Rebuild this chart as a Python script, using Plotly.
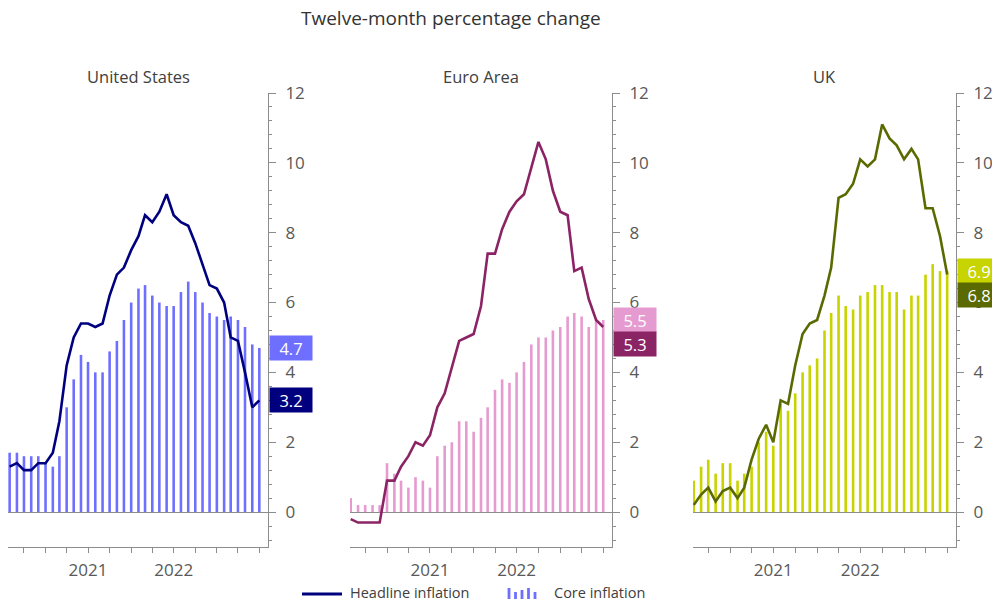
import pandas as pd
import plotly.graph_objects as go
from plotly.subplots import make_subplots

# monthly, Aug 2020 - Jul 2023
months = pd.date_range("2020-08-01", periods=36, freq="MS")

us_headline = [1.3, 1.4, 1.2, 1.2, 1.4,
               1.4, 1.7, 2.6, 4.2, 5.0, 5.4, 5.4, 5.3, 5.4, 6.2, 6.8, 7.0,
               7.5, 7.9, 8.5, 8.3, 8.6, 9.1, 8.5, 8.3, 8.2, 7.7, 7.1, 6.5,
               6.4, 6.0, 5.0, 4.9, 4.0, 3.0, 3.2]
us_core = [1.7, 1.7, 1.6, 1.6, 1.6,
           1.4, 1.3, 1.6, 3.0, 3.8, 4.5, 4.3, 4.0, 4.0, 4.6, 4.9, 5.5,
           6.0, 6.4, 6.5, 6.2, 6.0, 5.9, 5.9, 6.3, 6.6, 6.3, 6.0, 5.7,
           5.6, 5.5, 5.6, 5.5, 5.3, 4.8, 4.7]

ea_headline = [-0.2, -0.3, -0.3, -0.3, -0.3,
               0.9, 0.9, 1.3, 1.6, 2.0, 1.9, 2.2, 3.0, 3.4, 4.1, 4.9, 5.0,
               5.1, 5.9, 7.4, 7.4, 8.1, 8.6, 8.9, 9.1, 9.9, 10.6, 10.1, 9.2,
               8.6, 8.5, 6.9, 7.0, 6.1, 5.5, 5.3]
ea_core = [0.4, 0.2, 0.2, 0.2, 0.2,
           1.4, 1.1, 0.9, 0.7, 1.0, 0.9, 0.7, 1.6, 1.9, 2.0, 2.6, 2.6,
           2.3, 2.7, 3.0, 3.5, 3.8, 3.7, 4.0, 4.3, 4.8, 5.0, 5.0, 5.2,
           5.3, 5.6, 5.7, 5.6, 5.3, 5.5, 5.5]

uk_headline = [0.2, 0.5, 0.7, 0.3, 0.6,
               0.7, 0.4, 0.7, 1.5, 2.1, 2.5, 2.0, 3.2, 3.1, 4.2, 5.1, 5.4,
               5.5, 6.2, 7.0, 9.0, 9.1, 9.4, 10.1, 9.9, 10.1, 11.1, 10.7, 10.5,
               10.1, 10.4, 10.1, 8.7, 8.7, 7.9, 6.8]
uk_core = [0.9, 1.3, 1.5, 1.1, 1.4,
           1.4, 0.9, 1.1, 1.3, 2.0, 2.3, 1.9, 3.1, 2.9, 3.4, 4.0, 4.2,
           4.4, 5.2, 5.7, 6.2, 5.9, 5.8, 6.2, 6.3, 6.5, 6.5, 6.3, 6.3,
           5.8, 6.2, 6.2, 6.8, 7.1, 6.9, 6.9]

panels = [
    ("United States", us_headline, us_core, "#00007f", "#6f6fff"),
    ("Euro Area", ea_headline, ea_core, "#8b2465", "#e69bd0"),
    ("UK", uk_headline, uk_core, "#5b6a00", "#c8d400"),
]

# page has an 8px body margin, so the figure is sized to fit the window
OFF = 8
W, H = 1000 - 2 * OFF, 610 - 2 * OFF


def px(xp):
    return min(max((xp - OFF) / W, 0), 1)


def py(yp):
    return min(max(1 - (yp - OFF) / H, 0), 1)


x_px = [(8, 268), (350, 612), (693, 956)]
y_dom = [py(547), py(93)]
y_range = [-1, 12]
px_per_unit = (547 - 93) / (y_range[1] - y_range[0])
box_h = 24

tick_dates = pd.date_range("2020-10-01", "2023-07-01", freq="3MS")
tick_text = [str(d.year) if d.month == 7 and d.year in (2021, 2022) else "" for d in tick_dates]

axis_grey = "#8c8c8c"
text_grey = "#595959"
font_family = "'Open Sans', 'Noto Sans', sans-serif"

fig = make_subplots(rows=1, cols=3)

annotations = []
for i, (name, head, core, line_col, bar_col) in enumerate(panels):
    col = i + 1
    fig.add_trace(go.Bar(x=months, y=core, marker_color=bar_col, marker_line_width=0,
                         width=11 * 86400000, showlegend=False), row=1, col=col)
    fig.add_trace(go.Scatter(x=months, y=head, mode="lines",
                             line=dict(color=line_col, width=2.6), showlegend=False), row=1, col=col)

    xa = "xaxis" if i == 0 else "xaxis%d" % col
    ya = "yaxis" if i == 0 else "yaxis%d" % col
    start = "2020-07-29" if i else "2020-07-25"
    fig.layout[xa].update(domain=[px(x_px[i][0]), px(x_px[i][1])],
                          range=[start, "2023-08-07"], type="date",
                          tickvals=tick_dates, ticktext=tick_text, automargin=False,
                          showline=True, linecolor=axis_grey, linewidth=1,
                          ticks="outside", ticklen=5, tickcolor=axis_grey,
                          showgrid=False, zeroline=False,
                          tickfont=dict(size=17, color=text_grey), ticklabelstandoff=3)
    fig.layout[ya].update(domain=y_dom, range=y_range, side="right", automargin=False,
                          tickvals=[0, 2, 4, 6, 8, 10, 12],
                          showline=True, linecolor=axis_grey, linewidth=1,
                          ticks="outside", ticklen=7, tickcolor=axis_grey,
                          minor=dict(dtick=0.4, tick0=0, ticks="outside", ticklen=3, tickcolor=axis_grey),
                          showgrid=False, zeroline=True, zerolinecolor=axis_grey, zerolinewidth=1,
                          tickfont=dict(size=17, color=text_grey), ticklabelstandoff=6)

    # panel title
    annotations.append(dict(text=name, x=px((x_px[i][0] + x_px[i][1]) / 2), y=py(77),
                            xref="paper", yref="paper", xanchor="center", yanchor="middle",
                            showarrow=False, font=dict(size=16.5, color="#404040")))

    # last-value boxes
    last = [(core[-1], bar_col), (head[-1], line_col)]
    last.sort(key=lambda t: -t[0])
    (v_hi, c_hi), (v_lo, c_lo) = last
    y_lo = v_lo
    if v_hi - v_lo < box_h / px_per_unit:
        y_lo = v_hi - box_h / px_per_unit
    for v, yy, c in [(v_hi, v_hi, c_hi), (v_lo, y_lo, c_lo)]:
        annotations.append(dict(text="%.1f" % v, x=1, y=yy,
                                xref="%s domain" % ("x" if i == 0 else "x%d" % col),
                                yref="y" if i == 0 else "y%d" % col,
                                xanchor="left", yanchor="middle",
                                xshift=1, showarrow=False, bgcolor=c, width=38, height=20, borderpad=2,
                                font=dict(size=16.5, color="white")))

# main title
annotations.append(dict(text="Twelve-month percentage change", x=px(451), y=py(18),
                        xref="paper", yref="paper", xanchor="center", yanchor="middle",
                        showarrow=False, borderpad=0, font=dict(size=19, color="#333333")))

# legend (drawn by hand to mimic the original bar icon)
shapes = [dict(type="line", xref="paper", yref="paper", x0=px(302), x1=px(342), y0=py(594), y1=py(594),
               line=dict(color=panels[0][3], width=3))]
icon_h = [11, 7, 9, 11, 7]
for k, h in enumerate(icon_h):
    cx = 509 + k * 6.5
    shapes.append(dict(type="rect", xref="paper", yref="paper",
                       x0=px(cx - 1.4), x1=px(cx + 1.4), y0=py(599), y1=py(599 - h),
                       fillcolor=panels[0][4], line=dict(width=0)))
annotations.append(dict(text="Headline inflation", x=px(349), y=py(592), xref="paper", yref="paper",
                        xanchor="left", yanchor="middle", showarrow=False, borderpad=0,
                        font=dict(size=14.5, color="#404040")))
annotations.append(dict(text="Core inflation", x=px(553), y=py(592), xref="paper", yref="paper",
                        xanchor="left", yanchor="middle", showarrow=False, borderpad=0,
                        font=dict(size=14.5, color="#404040")))

fig.update_layout(width=W, height=H, margin=dict(l=0, r=0, t=0, b=0, autoexpand=False),
                  paper_bgcolor="white", plot_bgcolor="white",
                  font=dict(family=font_family), annotations=annotations, shapes=shapes,
                  showlegend=False, barmode="overlay")

fig.write_html("out.html")
